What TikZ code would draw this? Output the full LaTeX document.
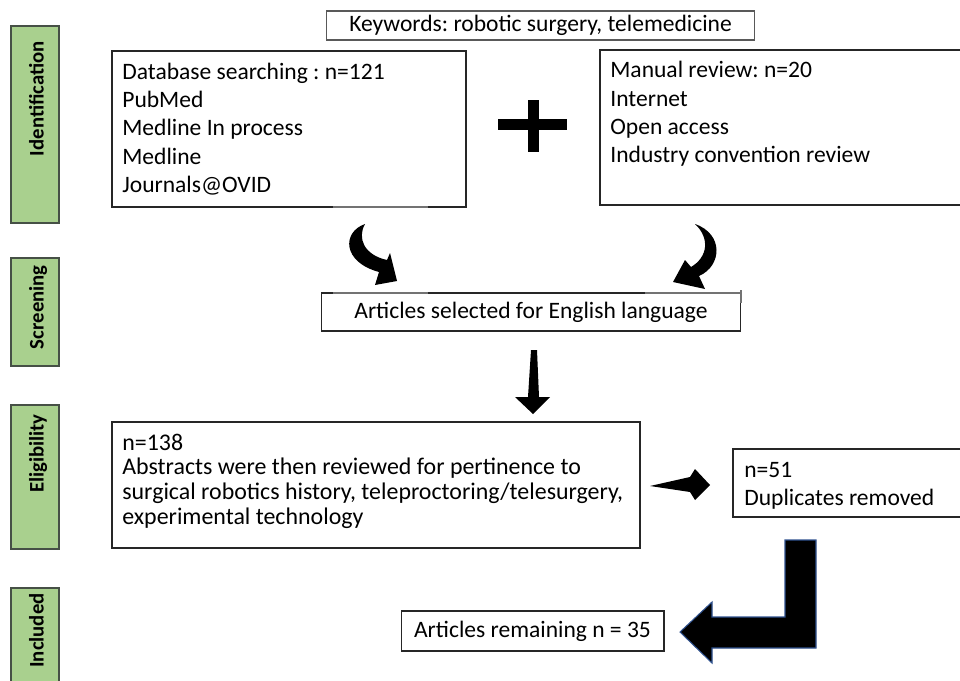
\documentclass[tikz,border=0pt]{standalone}
\usepackage{fontspec}
\setmainfont{Carlito}
\newcommand{\tstr}{\rule{0pt}{12pt}}
\frenchspacing
\begin{document}
\begin{tikzpicture}[x=0.02cm,y=-0.02cm,
  box/.style={draw=black!85,line width=0.6pt,fill=white},
  kbox/.style={draw=black!65,line width=0.6pt,fill=white,inner sep=0,font=\fontsize{13.4}{16}\selectfont},
  txt/.style={font=\fontsize{13.4}{16.1}\selectfont,align=left,inner sep=0,anchor=north west},
  etxt/.style={font=\fontsize{13.6}{14}\selectfont,align=left,inner sep=0,anchor=north west},
  stage/.style={draw={rgb,255:red,70;green,80;blue,70},line width=0.9pt,fill={rgb,255:red,169;green,208;blue,142}},
  stagetxt/.style={font=\bfseries\fontsize{11.8}{14}\selectfont,rotate=90,anchor=base east,inner sep=0},
  blk/.style={fill=black},
  artefact/.style={draw=black!55,line width=1.1pt}]
\useasboundingbox (0,0) rectangle (960,680);
\clip (0,0) rectangle (960,680);

% stage labels
\draw[stage] (11,26) rectangle (59,223);
\draw[stage] (11,258) rectangle (59,366);
\draw[stage] (11,405) rectangle (59,549);
\draw[stage] (11,588) rectangle (59,700);
\node[stagetxt] (sid) at (43.5,41) {Identification};
\node[stagetxt] (sscr) at (43.5,265) {Screening};
\node[stagetxt] (selg) at (43.5,414) {Eligibility};
\node[stagetxt] (sinc) at (43.5,593) {Included};

% keywords
\node[kbox,minimum width=8.58cm,minimum height=0.58cm] (kw) at (540.5,25.5) {Keywords: robotic surgery, telemedicine};

% database box
\draw[box] (112,51) rectangle (466,207);
\draw[artefact] (333,207) -- (428,207);
\node[txt] (db) at (122,57.8) {\tstr Database searching : n=121\\PubMed\\Medline In process\\Medline\\Journals@OVID};

% manual box
\draw[box] (600,50) rectangle (965,205);
\node[txt] (man) at (610,56.3) {\tstr Manual review: n=20\\Internet\\Open access\\Industry convention review};

% plus
\fill[blk] (528,100) rectangle (539,152);
\fill[blk] (498,119) rectangle (567,130);

% curved arrows
\fill[blk] (365,224) .. controls (342,232) and (342,262) .. (379,272) -- (375,285) -- (397,281) -- (390,253) -- (387,260) .. controls (364,255) and (357,238) .. (365,224) -- cycle;
\fill[blk] (695,224) .. controls (724,234) and (722,266) .. (699,276) -- (705,289) -- (673,282) -- (685,260) -- (691,267) .. controls (708,257) and (710,238) .. (695,224) -- cycle;

% english language
\node[box,inner sep=0,minimum width=8.4cm,minimum height=0.76cm,font=\fontsize{13.4}{16}\selectfont] (eng) at (531,312) {Articles selected for English language};
\draw[artefact] (333,293) -- (428,293);
\draw[artefact] (645,293) -- (741,293);
\draw[draw=black!55,line width=0.8pt] (741,290) -- (741,303);

% down arrow
\fill[blk] (531,350) -- (537,350) -- (539,397) -- (550,397) -- (533,414) -- (515,397) -- (528,397) -- cycle;

% eligibility
\draw[box] (112,422) rectangle (640,548);
\node[etxt] (elg) at (122,428.8) {\tstr n=138\\Abstracts were then reviewed for pertinence to\\surgical robotics history, teleproctoring/telesurgery,\\experimental technology};

% right arrow
\fill[blk] (650,486) -- (690,477) -- (695,469) -- (710,485) -- (695,500) -- (690,492) -- cycle;

% duplicates
\draw[box] (733,449) rectangle (965,517);
\node[txt] (dup) at (744,455.8) {\tstr n=51\\Duplicates removed};

% bent arrow
\filldraw[fill=black,draw={rgb,255:red,47;green,82;blue,143},line width=0.6pt] (785,540) -- (816,540) -- (816,648) -- (712,648) -- (712,663) -- (680,632) -- (712,602) -- (712,617) -- (785,617) -- cycle;

% remaining
\node[box,inner sep=0,minimum width=5.26cm,minimum height=0.8cm,font=\fontsize{13.4}{16}\selectfont] (rem) at (532.5,631) {Articles remaining n = 35};
\end{tikzpicture}
\end{document}
